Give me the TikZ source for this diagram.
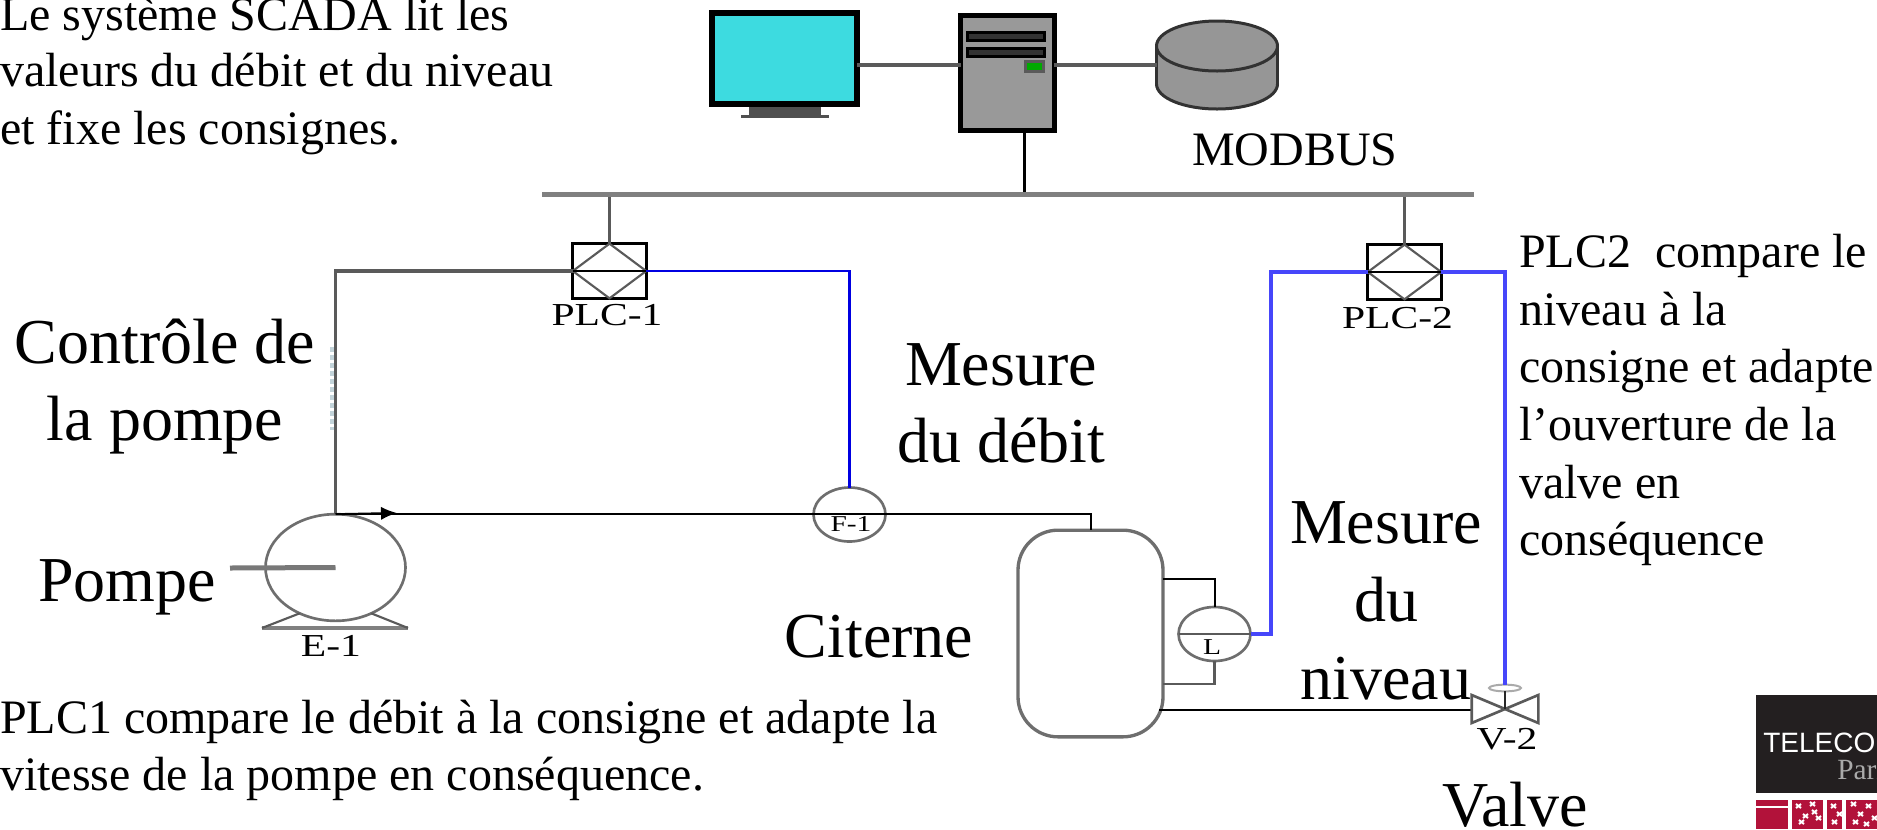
\documentclass[tikz,border=0pt]{standalone}
\usepackage{fontspec}
\setmainfont{Liberation Serif}
\newfontfamily\tagfont[FakeStretch=1.3]{Liberation Serif}
\newfontfamily\logofont{Liberation Sans}
\usetikzlibrary{shapes.geometric,arrows.meta}
\tikzset{
  box/.style={rectangle,inner sep=0pt,outer sep=0pt},
  screen/.style={box,draw=black,line width=4.5pt,fill={rgb, 255:red, 61; green, 219; blue, 224 },minimum width=108.75pt,minimum height=68.25pt},
  tower/.style={box,draw=black,line width=3.75pt,fill={rgb, 255:red, 153; green, 153; blue, 153 },minimum width=70pt,minimum height=86.25pt},
  bay/.style={box,draw=black,line width=2.25pt,fill={rgb, 255:red, 51; green, 51; blue, 51 },minimum width=58pt,minimum height=6pt},
  led/.style={box,draw={rgb, 255:red, 90; green, 90; blue, 90 },line width=2.25pt,fill={rgb, 255:red, 0; green, 170; blue, 0 },minimum width=13.5pt,minimum height=7.5pt},
  stand/.style={box,fill={rgb, 255:red, 80; green, 80; blue, 80 }},
  store/.style={ellipse,inner sep=0pt,outer sep=0pt,draw={rgb, 255:red, 50; green, 50; blue, 50 },line width=2.25pt,fill={rgb, 255:red, 150; green, 150; blue, 150 },minimum width=90.75pt,minimum height=37.5pt},
  rail/.style={box,fill={rgb, 255:red, 128; green, 128; blue, 128 }},
  plc/.style={box,draw=black,line width=2.25pt,minimum width=55pt,minimum height=41pt},
  gauge/.style={ellipse,inner sep=0pt,outer sep=0pt,draw={rgb, 255:red, 110; green, 110; blue, 110 },line width=2pt,minimum width=54pt,minimum height=40.5pt},
  motor/.style={gauge,minimum width=105pt,minimum height=80pt},
  vessel/.style={box,rounded corners=30pt,draw={rgb, 255:red, 110; green, 110; blue, 110 },line width=2.5pt,minimum width=108.75pt,minimum height=155pt},
  bow/.style={box,minimum width=50pt,minimum height=21pt},
  wire/.style={line width=1.5pt,draw=black},
  grayline/.style={line width=2.5pt,draw={rgb, 255:red, 90; green, 90; blue, 90 }},
  signal/.style={line width=1.6pt,draw={rgb, 255:red, 0; green, 0; blue, 225 }},
  signalb/.style={line width=2.8pt,draw={rgb, 255:red, 70; green, 70; blue, 250 }},
  thin/.style={line width=1.6pt,draw={rgb, 255:red, 90; green, 90; blue, 90 }},
  tag/.style={anchor=base,inner sep=0pt,font=\tagfont\fontsize{24}{24}\selectfont},
  tagsmall/.style={anchor=base,inner sep=0pt,font=\tagfont\fontsize{17}{17}\selectfont},
  note/.style={anchor=base west,inner sep=0pt,font=\fontsize{36}{36}\selectfont},
  big/.style={anchor=base,inner sep=0pt,font=\fontsize{48}{48}\selectfont},
  crimson/.style={box,anchor=north west,fill={rgb, 255:red, 178; green, 18; blue, 58 },minimum height=22pt},
}
\begin{document}
\begin{tikzpicture}[x=0.75pt,y=0.75pt,yscale=-1,xscale=1]
\useasboundingbox (0,0) rectangle (1877,829);
\clip (0,0) rectangle (1877,829);

%Shape: Monitor
\node[stand,minimum width=54pt,minimum height=6pt] (standtop) at (785,111) {};
\node[stand,minimum width=66pt,minimum height=2.25pt] (standbase) at (785,116) {};
\node[screen] (monitor) at (784.5,58.5) {};
%Shape: Server
\node[tower] (server) at (1007.5,73) {};
\node[bay] (bayone) at (1006,36.5) {};
\node[bay] (baytwo) at (1006,52.5) {};
\node[led] (power) at (1034,66.5) {};
%Shape: Disk
\node[store] (diskbase) at (1217,84) {};
\node[box,fill={rgb, 255:red, 150; green, 150; blue, 150 },minimum width=90.75pt,minimum height=28.5pt] (disk) at (1217,65) {};
\draw[draw={rgb, 255:red, 50; green, 50; blue, 50 },line width=2.25pt] (diskbase.west) -- (disk.north west);
\draw[draw={rgb, 255:red, 50; green, 50; blue, 50 },line width=2.25pt] (diskbase.east) -- (disk.north east);
\node[store] (disktop) at (1217,46) {};
%Shape: Bus
\node[rail,minimum width=699pt,minimum height=3.75pt] (bus) at (1008,194) {};
%Shape: Controllers
\node[plc] (plcone) at (609.5,271) {};
\node[plc] (plctwo) at (1404.5,272) {};
%Shape: Pump
\node[motor] (pump) at (335.5,567.5) {};
\node[rail,minimum width=109.5pt,minimum height=3pt] (pumpbase) at (335,628) {};
\coordinate (shaft) at (230,568);
\coordinate (arrowtip) at (397,513);
%Shape: Tank
\node[vessel] (tank) at (1090.5,633.5) {};
\coordinate (tapup) at (1163,579);
\coordinate (tapdown) at (1163,684);
\coordinate (outlet) at (1159,710);
%Shape: Gauges
\node[gauge] (flow) at (849.5,514.5) {};
\node[gauge] (level) at (1214.5,634) {};
%Shape: Valve
\node[bow] (valve) at (1505,709) {};
\node[ellipse,inner sep=0pt,outer sep=0pt,draw={rgb, 255:red, 170; green, 170; blue, 170 },line width=1.5pt,minimum width=24pt,minimum height=5pt] (valvecap) at (1505,688) {};
\coordinate (cornerlevel) at (1271,272);
\coordinate (linkrow) at (1000,65);
\coordinate (smudgetop) at (332,347);
\coordinate (smudgelow) at (332,430);

%Straight Lines
\draw[grayline] (monitor.east |- linkrow) -- (server.west |- linkrow);
\draw[grayline] (server.east |- linkrow) -- (disk.west |- linkrow);
\draw[line width=2.25pt] (server.south -| 1024,0) -- (bus.north -| 1024,0);
\draw[grayline] (plcone.north |- bus.south) -- (plcone.north);
\draw[grayline] (plctwo.north |- bus.south) -- (plctwo.north);
%Diamonds
\foreach \ctrl in {plcone,plctwo}{
  \draw[thin] (\ctrl.north) -- (\ctrl.east) -- (\ctrl.south) -- (\ctrl.west) -- cycle;
  \draw[wire] (\ctrl.west) -- (\ctrl.east);
}
\draw[draw={rgb, 255:red, 195; green, 212; blue, 218 },line width=3pt,dashed,dash pattern=on 4pt off 2pt] (smudgetop) -- (smudgelow);
\draw[grayline] (plcone.west) -| (pump.north);
\draw[signal] (plcone.east) -| (flow.north);
\draw[signalb] (plctwo.west) -- (cornerlevel) -- (cornerlevel |- level.east) -- (level.east);
\draw[signalb] (plctwo.east) -| (valvecap.north);
\draw[wire] (pump.north) -| (tank.north);
\draw[wire,-{Latex[length=12pt,width=10pt]}] (pump.north) -- (arrowtip);
\draw[wire] (tapup) -| (level.north);
\draw[grayline,line width=2pt] (tapdown) -| (level.south);
\draw[thin] (level.west) -- (level.east);
\draw[line width=2pt] (outlet) -- (outlet -| valve.west);
\draw[draw={rgb, 255:red, 120; green, 120; blue, 120 },line width=3.75pt] (shaft) -- (pump.center);
\draw[thin] (pump.232) -- (pumpbase.west);
\draw[thin] (pump.308) -- (pumpbase.east);
\draw[thin,line width=2pt] (valve.north west) -- (valve.south east) -- (valve.north east) -- (valve.south west) -- cycle;
\draw[line width=2pt,draw={rgb, 255:red, 40; green, 40; blue, 40 }] (valvecap.south) -- (valve.center);

%Tags
\node[tag] (tagplcone) at (607,325) {PLC-1};
\node[tag] (tagplctwo) at (1397.5,328) {PLC-2};
\node[tag] (tagpump) at (331,656) {E-1};
\node[tagsmall] (tagflow) at (851,531) {F-1};
\node[tagsmall] (taglevel) at (1212,654) {L};
\node[tag] (tagvalve) at (1507,749) {V-2};

%Notes
\node[note] (noteone) at (0,30) {Le système SCADA lit les};
\node[note] (notetwo) at (0,86) {valeurs du débit et du niveau};
\node[note] (notethree) at (0,144) {et fixe les consignes.};
\node[note] (modbus) at (1192,165) {MODBUS};
\node[note] (plcr) at (1519,267) {PLC2\ \ compare le};
\node[note] (plcs) at (1519,325) {niveau à la};
\node[note] (plct) at (1519,382) {consigne et adapte};
\node[note] (plcu) at (1519,440) {l’ouverture de la};
\node[note] (plcv) at (1519,498) {valve en};
\node[note] (plcw) at (1519,555) {conséquence};
\node[note] (plca) at (0,733) {PLC1 compare le débit à la consigne et adapte la};
\node[note] (plcb) at (0,790) {vitesse de la pompe en conséquence.};

%Big labels
\node[big] (ctrlone) at (165,363) {Contrôle de};
\node[big] (ctrltwo) at (165,440) {la pompe};
\node[big] (pompe) at (127,601) {Pompe};
\node[big] (mesureone) at (1001,385) {Mesure};
\node[big] (mesuretwo) at (1001,462) {du débit};
\node[big] (citerne) at (879,657) {Citerne};
\node[big] (mesurethree) at (1386,543) {Mesure};
\node[big] (mesurefour) at (1386,621) {du};
\node[big] (mesurefive) at (1386,699) {niveau};
\node[big] (valvelabel) at (1515,826) {Valve};

%Shape: Logo
\node[box,anchor=north west,fill={rgb, 255:red, 35; green, 31; blue, 32 },minimum width=90.75pt,minimum height=73.5pt] (logotop) at (1756,695) {};
\node[anchor=base west,inner sep=0pt,text=white,font=\logofont\fontsize{21}{21}\selectfont] (logotext) at (1763,752) {TELECOM};
\node[anchor=base west,inner sep=0pt,text={rgb, 255:red, 170; green, 170; blue, 170 },font=\fontsize{22}{22}\selectfont] (logocity) at (1837,779) {Paris};
\node[crimson,minimum width=24pt] (logoa) at (1756,800) {};
\node[crimson,minimum width=23pt] (logob) at (1792,800) {};
\node[crimson,minimum width=11pt] (logoc) at (1827,800) {};
\node[crimson,minimum width=24pt] (logod) at (1846,800) {};
\draw[white,line width=1.5pt] (logoa.north west) ++(0,7) -- ++(32,0);
%speckles
\foreach \x/\y in {1796/808,1803/818,1810/806,1816/820,1799/824,1812/814,1831/808,1837/816,1832/824,1851/806,1858/816,1866/808,1872/820,1853/824,1864/826}{
  \draw[white,line width=1.5pt] (\x,\y) -- ++(5,-4) (\x,\y-4) -- ++(5,4);
}

\end{tikzpicture}
\end{document}
